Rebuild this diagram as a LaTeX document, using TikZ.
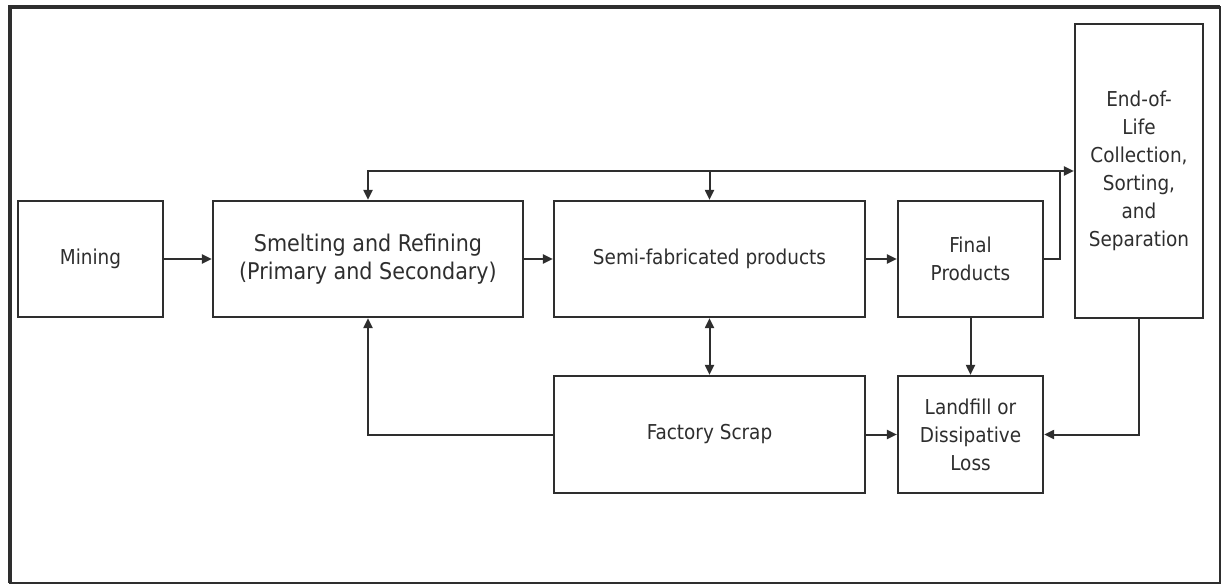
\documentclass[tikz,border=0pt]{standalone}
\usepackage{fontspec}
\setmainfont{DejaVu Sans Condensed}
\usetikzlibrary{arrows.meta}
\definecolor{inkgray}{HTML}{2E2E2E}
\newcommand{\bigfont}{\fontsize{23}{29}\selectfont}
\begin{document}
\begin{tikzpicture}
[x=1pt,y=-1pt,
  boxdecorate/.style={shape=rectangle,draw=inkgray,line width=2.2pt,%
    text=inkgray,align=center,inner sep=0pt,font=\fontsize{20.5}{28}\selectfont},%
  linedecorate/.style={-{Triangle[length=10pt,width=9pt]},draw=inkgray,line width=2pt},%
  bothdecorate/.style={{Triangle[length=10pt,width=9pt]}-{Triangle[length=10pt,width=9pt]},%
    draw=inkgray,line width=2pt}]
\useasboundingbox (0,0) rectangle (1222,585);
%% frame
\draw[inkgray,line width=2pt] (10,7) rectangle (1220,583);
\draw[inkgray,line width=4pt] (10,583) -- (10,7) -- (1220,7);
%% nodes or boxes
\foreach \nodename/\x/\y/\w/\h/\label in {mining/90.5/259/145/116/{Mining},
  smelt/368/259/310/116/{\bigfont Smelting and Refining\\\bigfont(Primary and Secondary)},
  semi/709.5/259/311/116/{Semi-fabricated products},
  final/970.5/259/145/116/{Final\\Products},
  eol/1139/171/128/294/{End-of-\\Life\\Collection,\\Sorting,\\and\\Separation},
  scrap/709.5/434.5/311/117/{Factory Scrap},
  landfill/970.5/434.5/145/117/{Landfill or\\Dissipative\\Loss}} {
  \node (\nodename) at (\x,\y) [boxdecorate,minimum width=\w pt,minimum height=\h pt] {\label};
}
\coordinate (junction) at (1060,171);
%% edges or lines
\path
\foreach \startnode/\endnode in {mining/smelt, smelt/semi, semi/final, scrap/landfill} {
  (\startnode) edge[linedecorate] (\endnode)
};
\draw[linedecorate] (final.east) -| (junction) -- (eol.west |- junction);
\draw[linedecorate] (junction) -| (smelt.north);
\draw[linedecorate] (semi.north |- junction) -- (semi.north);
\draw[bothdecorate] (semi.south) -- (scrap.north);
\draw[linedecorate] (scrap.west) -| (smelt.south);
\draw[linedecorate] (final.south) -- (landfill.north);
\draw[linedecorate] (eol.south) |- (landfill.east);
\end{tikzpicture}
\end{document}
